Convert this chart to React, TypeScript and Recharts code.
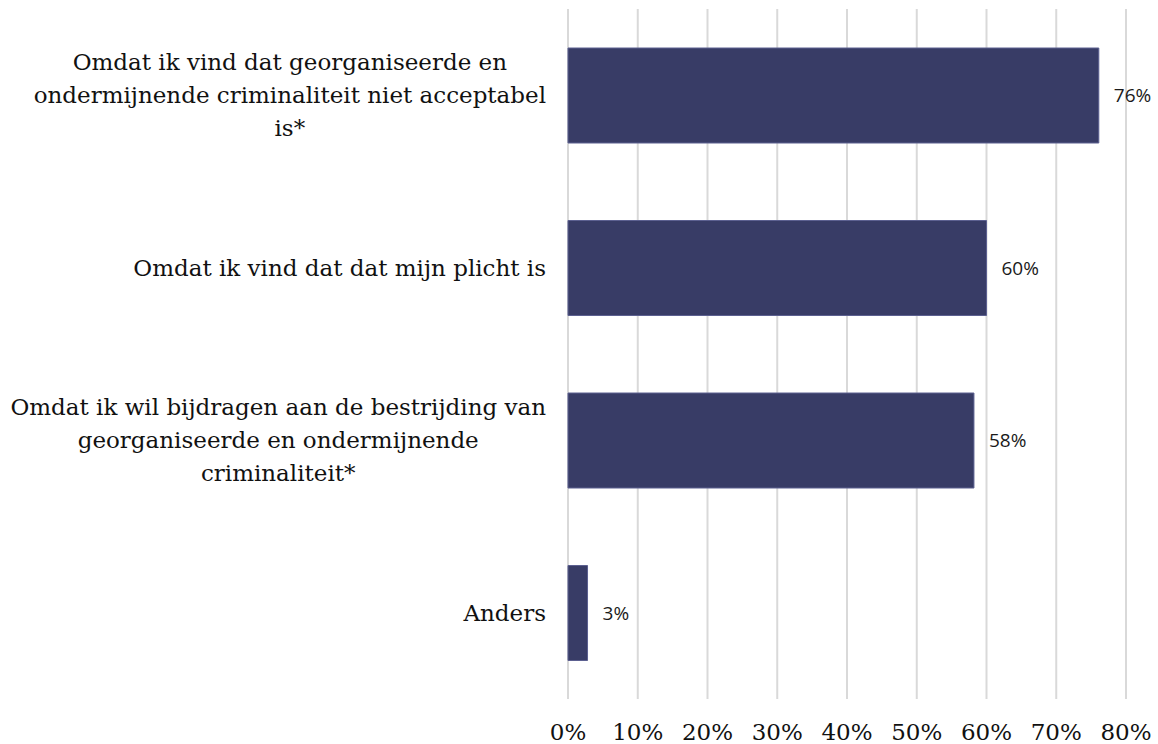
import { Bar, BarChart, CartesianGrid, LabelList, XAxis, YAxis } from "recharts";

const CATEGORIES = [
  "Omdat ik vind dat georganiseerde en\nondermijnende criminaliteit niet acceptabel\nis*",
  "Omdat ik vind dat dat mijn plicht is",
  "Omdat ik wil bijdragen aan de bestrijding van\ngeorganiseerde en ondermijnende\ncriminaliteit*",
  "Anders",
];
const SHARES = [76.1, 60.0, 58.2, 2.8];
const X_TICKS = [0, 10, 20, 30, 40, 50, 60, 70, 80];

const data = CATEGORIES.map((name, i) => ({ name, value: SHARES[i] }));

const SERIF = "'DejaVu Serif', serif";
const LABEL_FONT_SIZE = 23;
const LINE_HEIGHT = 33;

let ctx: CanvasRenderingContext2D | null = null;
function measure(text: string) {
  if (!ctx) ctx = document.createElement("canvas").getContext("2d");
  if (!ctx) return text.length * LABEL_FONT_SIZE * 0.55;
  ctx.font = `${LABEL_FONT_SIZE}px 'DejaVu Serif'`;
  return ctx.measureText(text).width;
}

/** Multi-line category label, each block centred, widest line flush to the axis. */
function CategoryTick(props: any) {
  const { x, y, payload } = props;
  const lines: string[] = String(payload.value).split("\n");
  const widest = Math.max(...lines.map(measure));
  const cx = x - 14 - widest / 2;
  const startY = y - ((lines.length - 1) * LINE_HEIGHT) / 2;
  return (
    <text
      textAnchor="middle"
      fontFamily={SERIF}
      fontSize={LABEL_FONT_SIZE}
      fill="#111"
    >
      {lines.map((l, i) => (
        <tspan key={i} x={cx} y={startY + i * LINE_HEIGHT} dominantBaseline="central">
          {l}
        </tspan>
      ))}
    </text>
  );
}

export default function App() {
  return (
    <div style={{ position: "absolute", left: 0, top: 0, width: 1158, height: 744, background: "#fff" }}>
      <BarChart
        width={1158}
        height={744}
        data={data}
        layout="vertical"
        margin={{ top: 9, right: 32, bottom: 0, left: 0 }}
        barSize={95}
      >
        <CartesianGrid horizontal={false} stroke="#d9d9d9" strokeWidth={2} />
        <XAxis
          type="number"
          domain={[0, 80]}
          ticks={X_TICKS}
          interval={0}
          axisLine={false}
          tickLine={false}
          height={45}
          tickMargin={19}
          tickFormatter={(v: number) => `${v}%`}
          tick={{ fontFamily: SERIF, fontSize: 23, fill: "#111" }}
        />
        <YAxis
          type="category"
          dataKey="name"
          width={568}
          axisLine={false}
          tickLine={false}
          tick={<CategoryTick />}
          interval={0}
        />
        <Bar dataKey="value" fill="#383c66" stroke="#5c6090" strokeWidth={1} isAnimationActive={false}>
          <LabelList
            dataKey="value"
            position="right"
            offset={15}
            formatter={(v: any) => `${Math.round(Number(v))}%`}
            style={{ fontFamily: "'Open Sans', sans-serif", fontSize: 19, fill: "#1a1a1a" }}
          />
        </Bar>
      </BarChart>
    </div>
  );
}
